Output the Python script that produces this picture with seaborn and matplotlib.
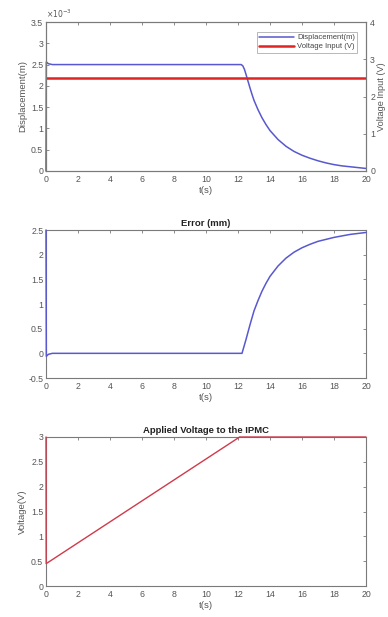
import numpy as np
import pandas as pd
import matplotlib
matplotlib.use("Agg")
import matplotlib.pyplot as plt
import seaborn as sns
from matplotlib.ticker import FuncFormatter
from matplotlib.lines import Line2D

# ---------------- data ----------------
t_disp = [0.0, 0.02, 0.15, 0.4, 2.0, 6.0, 10.0, 12.2, 12.3, 12.4, 12.5, 12.625, 12.75,
          12.875, 13.0, 13.25, 13.5, 13.75, 14.0, 14.5, 15.0, 15.5, 16.0, 16.5, 17.0,
          17.5, 18.0, 18.5, 19.0, 19.5, 20.0]
disp_m = [0.0, 2.56e-3, 2.52e-3, 2.5e-3, 2.5e-3, 2.5e-3, 2.5e-3, 2.5e-3, 2.47e-3, 2.39e-3,
          2.27e-3, 2.11e-3, 1.95e-3, 1.80e-3, 1.66e-3, 1.44e-3, 1.25e-3, 1.09e-3, 0.95e-3,
          0.74e-3, 0.58e-3, 0.46e-3, 0.37e-3, 0.30e-3, 0.24e-3, 0.19e-3, 0.15e-3, 0.12e-3,
          0.10e-3, 0.08e-3, 0.06e-3]

t_vin = [0.0, 20.0]
v_in = [2.5, 2.5]

t_err = [0.0, 0.02, 0.15, 0.4, 2.0, 6.0, 10.0, 12.25, 12.5, 12.75, 13.0, 13.25, 13.5,
         13.75, 14.0, 14.5, 15.0, 15.5, 16.0, 16.5, 17.0, 17.5, 18.0, 18.5, 19.0, 19.5, 20.0]
err_mm = [2.5, -0.06, -0.02, 0.0, 0.0, 0.0, 0.0, 0.0, 0.28, 0.58, 0.86, 1.07, 1.26,
          1.42, 1.56, 1.77, 1.93, 2.05, 2.14, 2.21, 2.27, 2.31, 2.35, 2.38, 2.41, 2.43, 2.45]

t_volt = [0.0, 0.01, 12.1, 20.0]
volt = [3.0, 0.45, 3.0, 3.0]

x_ticks = [0, 2, 4, 6, 8, 10, 12, 14, 16, 18, 20]

# ---------------- style ----------------
sns.set_theme(style="white")
plt.rcParams['font.family'] = ['Liberation Sans', 'DejaVu Sans']
tick_col = '#555555'
spine_col = '#7a7a7a'
blue = '#5858d0'
red = '#e02424'
red2 = '#d03a4a'

fig = plt.figure(figsize=(3.88, 6.17), dpi=100)
W, H = 388.0, 617.0

def add_axes(left, top, right, bottom):
    return fig.add_axes([left / W, 1 - bottom / H, (right - left) / W, (bottom - top) / H])

def style(ax, right_ticks=True):
    for s in ax.spines.values():
        s.set_color(spine_col)
        s.set_linewidth(0.8)
        s.set_zorder(1)
    ax.tick_params(direction='in', length=2.5, width=0.6, color=spine_col,
                   labelsize=6.3, labelcolor=tick_col, top=True, right=right_ticks, pad=2)
    ax.tick_params(axis='x', pad=3)
    ax.set_xlim(0, 20)
    ax.set_xticks(x_ticks)
    ax.set_xlabel('t(s)', fontsize=6.8, color=tick_col, labelpad=1)

def unclip(ax):
    for ln in ax.get_lines():
        ln.set_clip_on(False)
        ln.set_zorder(5)

def g(v, pos=None):
    return ('%g' % v)

df_disp = pd.DataFrame({'t': t_disp, 'd': disp_m})
df_vin = pd.DataFrame({'t': t_vin, 'v': v_in})
df_err = pd.DataFrame({'t': t_err, 'e': err_mm})
df_volt = pd.DataFrame({'t': t_volt, 'v': volt})

# ---------------- plot 1 ----------------
ax1 = add_axes(46, 22, 366, 171)
sns.lineplot(data=df_disp, x='t', y='d', ax=ax1, color=blue, lw=1.1,
             estimator=None, sort=False, legend=False)
unclip(ax1)
ax1.set_ylim(0, 3.5e-3)
ax1.set_yticks(np.arange(0, 3.51e-3, 0.5e-3))
ax1.yaxis.set_major_formatter(FuncFormatter(lambda v, p: '%g' % round(v * 1e3, 3)))
ax1.text(0.0, 1.015, r'$\times10^{-3}$', transform=ax1.transAxes, fontsize=5.5,
         color=tick_col, ha='left', va='bottom')
style(ax1, right_ticks=False)
ax1.set_ylabel('Displacement(m)', fontsize=6.8, color=tick_col, labelpad=3)

ax1r = ax1.twinx()
sns.lineplot(data=df_vin, x='t', y='v', ax=ax1r, color=red, lw=1.8,
             estimator=None, sort=False, legend=False)
ax1r.set_ylim(0, 4)
ax1r.set_yticks([0, 1, 2, 3, 4])
for s in ax1r.spines.values():
    s.set_color(spine_col)
    s.set_linewidth(0.8)
ax1r.tick_params(direction='in', length=2.5, width=0.6, color=spine_col,
                 labelsize=6.3, labelcolor=tick_col, pad=3)
ax1r.set_ylabel('Voltage Input (V)', fontsize=6.6, color=tick_col, labelpad=1)
ax1.set_xlabel('t(s)', fontsize=6.8, color=tick_col, labelpad=1)

handles = [Line2D([], [], color=blue, lw=1.1), Line2D([], [], color=red, lw=1.8)]
leg = ax1r.legend(handles, ['Displacement(m)', 'Voltage Input (V)'], loc='upper right',
                  fontsize=5.5, frameon=True, fancybox=False, handlelength=4.6,
                  borderpad=0.3, labelspacing=0.2, handletextpad=0.4,
                  bbox_to_anchor=(0.985, 0.96))
leg.get_frame().set_edgecolor('#999999')
leg.get_frame().set_linewidth(0.6)
for txt in leg.get_texts():
    txt.set_color('#444444')

# ---------------- plot 2 ----------------
ax2 = add_axes(46, 230, 366, 378)
sns.lineplot(data=df_err, x='t', y='e', ax=ax2, color=blue, lw=1.1,
             estimator=None, sort=False, legend=False)
unclip(ax2)
ax2.set_ylim(-0.5, 2.5)
ax2.set_yticks([-0.5, 0, 0.5, 1, 1.5, 2, 2.5])
ax2.yaxis.set_major_formatter(FuncFormatter(g))
style(ax2)
ax2.set_ylabel('')
ax2.set_title('Error (mm)', fontsize=6.8, fontweight='bold', color='#222222', pad=3)

# ---------------- plot 3 ----------------
ax3 = add_axes(46, 437, 366, 586)
sns.lineplot(data=df_volt, x='t', y='v', ax=ax3, color=red2, lw=1.0,
             estimator=None, sort=False, legend=False)
unclip(ax3)
ax3.set_ylim(0, 3)
ax3.set_yticks([0, 0.5, 1, 1.5, 2, 2.5, 3])
ax3.yaxis.set_major_formatter(FuncFormatter(g))
style(ax3)
ax3.set_ylabel('Voltage(V)', fontsize=6.8, color=tick_col, labelpad=3)
ax3.set_title('Applied Voltage to the IPMC', fontsize=6.8, fontweight='bold',
              color='#222222', pad=3)

fig.savefig('out.png', dpi=100, facecolor='white')
